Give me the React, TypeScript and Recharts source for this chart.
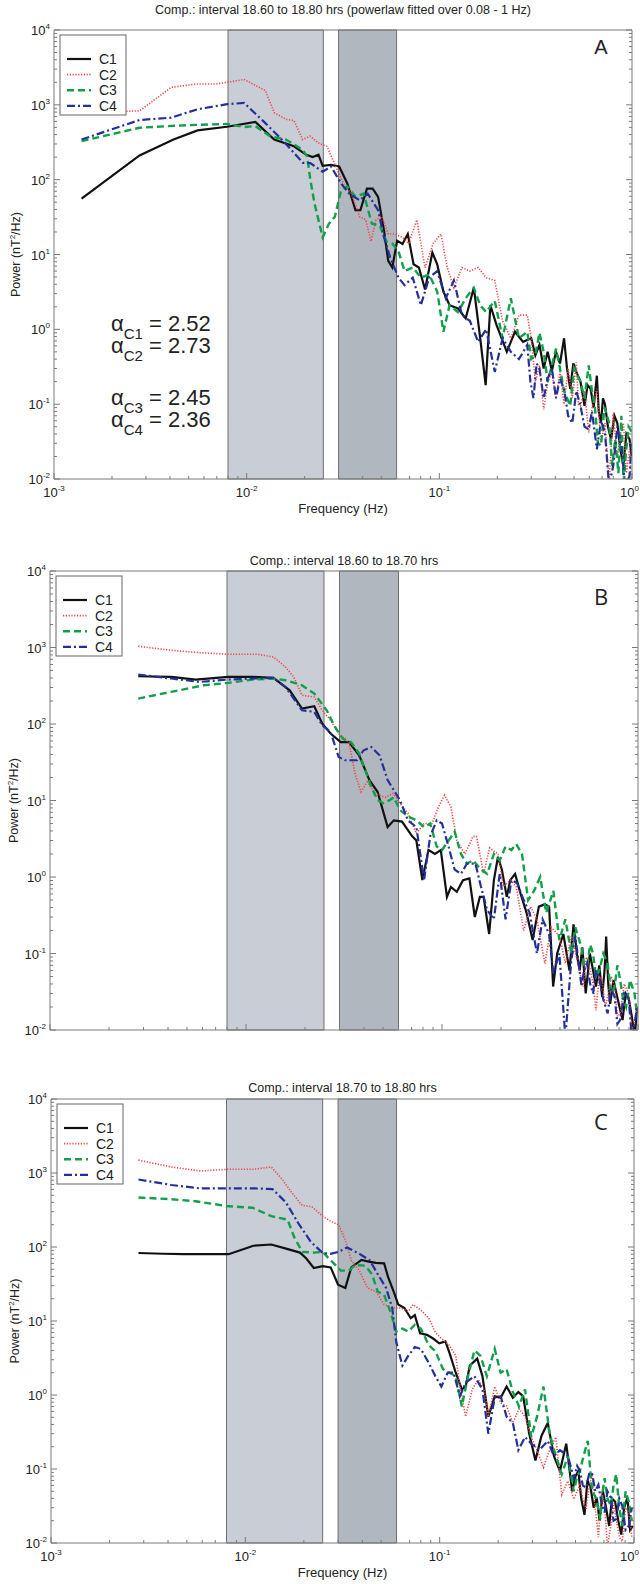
import React from 'react';
import { LineChart, Line, XAxis, YAxis, ReferenceArea } from 'recharts';

type Pt = [number, number];

// ---------- axis ticks ----------
const FREQ_TICKS = [
  0.001, 0.002, 0.003, 0.004, 0.005, 0.006, 0.007, 0.008, 0.009,
  0.01, 0.02, 0.03, 0.04, 0.05, 0.06, 0.07, 0.08, 0.09,
  0.1, 0.2, 0.3, 0.4, 0.5, 0.6, 0.7, 0.8, 0.9, 1,
];
const POWER_TICKS = [
  0.01, 0.02, 0.03, 0.04, 0.05, 0.06, 0.07, 0.08, 0.09,
  0.1, 0.2, 0.3, 0.4, 0.5, 0.6, 0.7, 0.8, 0.9,
  1, 2, 3, 4, 5, 6, 7, 8, 9,
  10, 20, 30, 40, 50, 60, 70, 80, 90,
  100, 200, 300, 400, 500, 600, 700, 800, 900,
  1000, 2000, 3000, 4000, 5000, 6000, 7000, 8000, 9000,
  10000,
];
const FREQ_DOMAIN = [0.001, 1];
const POWER_DOMAIN = [0.01, 10000];

// shaded frequency bands (Hz)
const BAND_LIGHT = [0.008, 0.025];
const BAND_DARK = [0.03, 0.06];

const SERIES_NAMES = ['C1', 'C2', 'C3', 'C4'];

// ---------- Panel A : 18.60 - 18.80 hrs ----------
const A_C1: Pt[] = [
  [0.00139, 56], [0.00278, 211], [0.00417, 344], [0.00556, 455], [0.0079, 509], [0.0111, 589],
  [0.0139, 344], [0.0176, 279], [0.0204, 215], [0.022, 200], [0.0236, 215], [0.0248, 153],
  [0.0274, 158], [0.0302, 150], [0.0333, 89], [0.0367, 39], [0.0389, 39], [0.0421, 76],
  [0.0451, 76], [0.0481, 59], [0.0516, 21], [0.0543, 8.2], [0.057, 6.7], [0.0604, 15.3],
  [0.0644, 13.8], [0.0686, 18.8], [0.0735, 7.4], [0.0783, 6.7], [0.0843, 3.4], [0.092, 10.6],
  [0.0975, 7.4], [0.105, 3.2], [0.113, 2.1], [0.125, 1.9], [0.137, 1.4], [0.151, 3.6],
  [0.163, 0.76], [0.174, 0.18], [0.184, 2.1], [0.198, 1.15], [0.224, 0.5], [0.247, 0.93],
  [0.272, 0.68], [0.3, 0.76], [0.315, 0.45], [0.331, 0.62], [0.348, 0.3], [0.365, 0.5],
  [0.384, 0.28], [0.403, 0.5], [0.423, 0.35], [0.444, 0.76], [0.46, 0.3], [0.478, 0.16],
  [0.496, 0.35], [0.514, 0.27], [0.54, 0.2], [0.567, 0.095], [0.588, 0.18], [0.61, 0.16],
  [0.632, 0.09], [0.657, 0.24], [0.672, 0.08], [0.69, 0.056], [0.707, 0.12], [0.724, 0.1],
  [0.75, 0.05], [0.779, 0.034], [0.81, 0.07], [0.839, 0.056], [0.87, 0.025], [0.902, 0.015],
  [0.935, 0.04], [0.971, 0.034], [0.995, 0.02],
];
const A_C2: Pt[] = [
  [0.00139, 790], [0.00278, 830], [0.00406, 1714], [0.00556, 1900], [0.00696, 1900], [0.00791, 2000],
  [0.0097, 2180], [0.0125, 1550], [0.0139, 787], [0.016, 640], [0.0176, 617], [0.0195, 344],
  [0.0214, 381], [0.0236, 309], [0.0261, 279], [0.0285, 166], [0.0317, 89], [0.035, 65],
  [0.0386, 32], [0.0415, 29], [0.0442, 15], [0.0469, 29], [0.0504, 32], [0.0543, 18.8],
  [0.0584, 18.8], [0.0644, 17], [0.0693, 14], [0.0764, 29], [0.0843, 6.7], [0.0929, 14],
  [0.102, 18.8], [0.11, 6.7], [0.119, 3.6], [0.131, 6.7], [0.144, 6], [0.159, 6.7],
  [0.175, 4.9], [0.194, 4.5], [0.213, 1.3], [0.235, 0.76], [0.259, 1.55], [0.286, 1.55],
  [0.3, 0.76], [0.315, 0.2], [0.331, 0.33], [0.348, 0.085], [0.366, 0.2], [0.384, 0.27],
  [0.403, 0.12], [0.423, 0.27], [0.444, 0.1], [0.466, 0.3], [0.49, 0.12], [0.514, 0.36],
  [0.527, 0.1], [0.54, 0.095], [0.567, 0.15], [0.596, 0.042], [0.625, 0.1], [0.657, 0.16],
  [0.69, 0.03], [0.724, 0.056], [0.76, 0.009], [0.799, 0.075], [0.839, 0.019], [0.87, 0.04],
  [0.902, 0.056], [0.935, 0.012], [0.971, 0.025], [0.995, 0.008],
];
const A_C3: Pt[] = [
  [0.00139, 327], [0.00278, 494], [0.00406, 523], [0.00556, 540], [0.00791, 555], [0.0097, 505],
  [0.0111, 520], [0.0132, 381], [0.016, 344], [0.0195, 251], [0.0206, 205], [0.0214, 100],
  [0.0225, 48], [0.0248, 17], [0.0267, 25.7], [0.0287, 32], [0.0309, 72], [0.0333, 81],
  [0.0367, 59], [0.0405, 65], [0.0446, 26], [0.0492, 24], [0.053, 15], [0.057, 14],
  [0.0614, 11], [0.066, 6.0], [0.0728, 6.7], [0.0802, 4.9], [0.0885, 5.4], [0.0975, 3.2],
  [0.105, 0.93], [0.113, 2.1], [0.125, 1.7], [0.137, 2.6], [0.151, 3.6], [0.163, 2.1],
  [0.175, 1.7], [0.194, 2.4], [0.213, 0.76], [0.235, 2.6], [0.259, 0.76], [0.286, 0.93],
  [0.3, 0.4], [0.315, 0.46], [0.331, 0.9], [0.348, 0.5], [0.365, 0.2], [0.384, 0.33],
  [0.403, 0.55], [0.423, 0.3], [0.444, 0.15], [0.478, 0.095], [0.5, 0.3], [0.54, 0.2],
  [0.567, 0.12], [0.596, 0.33], [0.62, 0.15], [0.641, 0.095], [0.665, 0.03], [0.69, 0.028],
  [0.72, 0.09], [0.761, 0.056], [0.79, 0.015], [0.818, 0.034], [0.85, 0.012], [0.881, 0.07],
  [0.905, 0.008], [0.925, 0.019], [0.96, 0.05], [1.0, 0.042],
];
const A_C4: Pt[] = [
  [0.00139, 344], [0.00278, 627], [0.00406, 674], [0.00556, 873], [0.00791, 1020], [0.0097, 1060],
  [0.0122, 606], [0.0155, 328], [0.0196, 168], [0.0214, 166], [0.0248, 128], [0.0274, 150],
  [0.0309, 89], [0.0341, 65], [0.0386, 53], [0.0425, 65], [0.0481, 39], [0.0516, 17],
  [0.0556, 9.1], [0.0614, 4.9], [0.066, 3.9], [0.0728, 4.9], [0.0802, 2.1], [0.0885, 4.9],
  [0.0975, 6.0], [0.108, 2.6], [0.119, 4.5], [0.131, 1.55], [0.144, 1.3], [0.159, 0.68],
  [0.175, 1.0], [0.194, 0.27], [0.213, 0.76], [0.235, 0.5], [0.259, 0.4], [0.286, 0.62],
  [0.297, 0.2], [0.308, 0.12], [0.32, 0.35], [0.331, 0.3], [0.348, 0.12], [0.365, 0.22],
  [0.384, 0.3], [0.403, 0.12], [0.423, 0.22], [0.444, 0.16], [0.466, 0.07], [0.49, 0.056],
  [0.514, 0.15], [0.54, 0.095], [0.567, 0.05], [0.596, 0.046], [0.62, 0.08], [0.657, 0.025],
  [0.69, 0.06], [0.724, 0.042], [0.76, 0.008], [0.799, 0.015], [0.84, 0.05], [0.881, 0.028],
  [0.92, 0.008], [0.971, 0.011], [0.995, 0.03],
];

// ---------- Panel B : 18.60 - 18.70 hrs ----------
const B_C1: Pt[] = [
  [0.00282, 421], [0.00415, 413], [0.00554, 381], [0.0081, 413], [0.0108, 413], [0.0138, 400],
  [0.0167, 276], [0.0193, 159], [0.0223, 171], [0.0245, 101], [0.027, 75], [0.0304, 58],
  [0.0335, 58], [0.0378, 39], [0.0426, 18.5], [0.0469, 13], [0.0528, 4.5], [0.0568, 5.5],
  [0.0625, 5.3], [0.0705, 3.4], [0.074, 3.0], [0.0794, 0.91], [0.0853, 2.25], [0.092, 2.0],
  [0.0986, 2.25], [0.106, 0.55], [0.111, 0.74], [0.119, 0.64], [0.128, 0.91], [0.138, 0.96],
  [0.147, 0.3], [0.156, 0.55], [0.163, 0.55], [0.174, 0.18], [0.184, 0.91], [0.193, 1.84],
  [0.202, 1.25], [0.214, 0.55], [0.223, 0.91], [0.236, 1.1], [0.251, 0.62], [0.27, 0.34],
  [0.29, 0.15], [0.312, 0.41], [0.335, 0.44], [0.352, 0.41], [0.369, 0.037], [0.387, 0.1],
  [0.416, 0.18], [0.447, 0.06], [0.469, 0.24], [0.49, 0.09], [0.504, 0.06], [0.52, 0.12],
  [0.541, 0.03], [0.568, 0.1], [0.59, 0.06], [0.61, 0.037], [0.635, 0.07], [0.656, 0.027],
  [0.675, 0.06], [0.688, 0.166], [0.705, 0.04], [0.721, 0.022], [0.75, 0.045], [0.776, 0.03],
  [0.805, 0.02], [0.834, 0.0135], [0.865, 0.03], [0.896, 0.026], [0.93, 0.015], [0.962, 0.008],
  [0.99, 0.02],
];
const B_C2: Pt[] = [
  [0.00282, 1038], [0.00415, 920], [0.0061, 849], [0.0081, 816], [0.0114, 816], [0.0138, 753],
  [0.0159, 557], [0.0175, 413], [0.0193, 238], [0.0223, 225], [0.0245, 151], [0.027, 112],
  [0.0297, 75], [0.0335, 58], [0.036, 22.5], [0.0386, 13], [0.0415, 17.5], [0.0456, 12.4],
  [0.0513, 11], [0.0563, 12.4], [0.061, 9.2], [0.067, 6.8], [0.074, 3.7], [0.081, 5.0],
  [0.089, 5.0], [0.096, 8.3], [0.103, 11.7], [0.111, 8.3], [0.119, 3.0], [0.131, 2.0],
  [0.144, 3.4], [0.15, 3.4], [0.163, 1.1], [0.175, 2.4], [0.193, 2.0], [0.206, 0.75],
  [0.223, 0.91], [0.239, 0.75], [0.261, 0.2], [0.283, 0.41], [0.305, 0.28], [0.335, 0.074],
  [0.36, 0.22], [0.397, 0.17], [0.426, 0.074], [0.457, 0.17], [0.49, 0.08], [0.51, 0.05],
  [0.527, 0.037], [0.545, 0.09], [0.566, 0.068], [0.59, 0.04], [0.61, 0.018], [0.635, 0.05],
  [0.656, 0.046], [0.68, 0.02], [0.7, 0.027], [0.73, 0.05], [0.76, 0.037], [0.785, 0.015],
  [0.81, 0.0165], [0.85, 0.04], [0.896, 0.03], [0.93, 0.01], [0.96, 0.012], [0.99, 0.02],
];
const B_C3: Pt[] = [
  [0.00282, 215], [0.00415, 263], [0.0061, 321], [0.0081, 345], [0.0108, 381], [0.0138, 393],
  [0.0159, 373], [0.0193, 321], [0.0223, 250], [0.0258, 151], [0.0284, 92], [0.0312, 64],
  [0.0343, 58], [0.0378, 41], [0.0406, 25], [0.0436, 15], [0.0469, 10.1], [0.0503, 9.2],
  [0.054, 10.1], [0.0568, 11], [0.061, 7.5], [0.067, 6.2], [0.074, 5.5], [0.081, 4.5],
  [0.087, 5.0], [0.094, 2.5], [0.1, 2.25], [0.108, 3.0], [0.116, 3.9], [0.125, 2.0],
  [0.134, 1.5], [0.144, 1.65], [0.158, 1.25], [0.17, 1.1], [0.184, 2.0], [0.197, 1.65],
  [0.211, 2.5], [0.226, 2.25], [0.239, 2.7], [0.256, 2.0], [0.275, 0.5], [0.295, 0.66],
  [0.317, 1.0], [0.34, 0.34], [0.37, 0.66], [0.397, 0.15], [0.426, 0.28], [0.457, 0.1],
  [0.479, 0.22], [0.515, 0.12], [0.53, 0.07], [0.55, 0.068], [0.57, 0.13], [0.59, 0.1],
  [0.61, 0.05], [0.635, 0.06], [0.665, 0.1], [0.7, 0.074], [0.73, 0.03], [0.76, 0.037],
  [0.785, 0.07], [0.81, 0.046], [0.84, 0.025], [0.87, 0.02], [0.91, 0.045], [0.96, 0.03],
  [0.99, 0.015],
];
const B_C4: Pt[] = [
  [0.00282, 443], [0.00415, 393], [0.0058, 355], [0.0081, 381], [0.0108, 393], [0.0138, 400],
  [0.0159, 305], [0.0193, 151], [0.0223, 144], [0.0245, 96], [0.027, 79], [0.0297, 37],
  [0.032, 33.6], [0.0343, 33.6], [0.0369, 33.6], [0.0397, 45], [0.0436, 50], [0.048, 39],
  [0.0528, 18.5], [0.0568, 13.6], [0.061, 10.1], [0.067, 5.5], [0.074, 4.5], [0.081, 0.91],
  [0.087, 3.4], [0.094, 5.5], [0.1, 5.0], [0.108, 2.5], [0.116, 1.25], [0.125, 1.1],
  [0.134, 1.5], [0.148, 1.5], [0.158, 0.75], [0.17, 0.37], [0.184, 0.28], [0.197, 1.1],
  [0.211, 0.28], [0.226, 0.91], [0.242, 0.83], [0.261, 0.5], [0.28, 0.34], [0.305, 0.1],
  [0.326, 0.28], [0.352, 0.18], [0.37, 0.055], [0.397, 0.1], [0.426, 0.008], [0.457, 0.083],
  [0.479, 0.17], [0.515, 0.037], [0.53, 0.06], [0.55, 0.074], [0.57, 0.04], [0.59, 0.03],
  [0.61, 0.06], [0.635, 0.046], [0.665, 0.025], [0.7, 0.0165], [0.73, 0.035], [0.76, 0.027],
  [0.785, 0.012], [0.81, 0.0135], [0.85, 0.03], [0.896, 0.026], [0.93, 0.008], [0.96, 0.012],
  [0.99, 0.02],
];

// ---------- Panel C : 18.70 - 18.80 hrs ----------
const C_C1: Pt[] = [
  [0.00282, 83], [0.00377, 81], [0.00481, 80], [0.00675, 80], [0.0082, 80], [0.0095, 91],
  [0.011, 104], [0.0136, 108], [0.0162, 95], [0.0191, 84], [0.0206, 70], [0.0225, 52],
  [0.025, 55], [0.0275, 53], [0.03, 31], [0.0327, 28], [0.0351, 53], [0.0396, 67],
  [0.0437, 63], [0.047, 61], [0.0518, 60], [0.0543, 39], [0.0578, 25.5], [0.0612, 16.7],
  [0.0659, 15], [0.071, 10.9], [0.0745, 12], [0.0793, 6.8], [0.086, 6.5], [0.0925, 5.8],
  [0.0995, 5.0], [0.107, 5.3], [0.112, 3.8], [0.121, 2.0], [0.13, 1.19], [0.136, 1.3],
  [0.143, 2.5], [0.156, 3.1], [0.166, 1.8], [0.178, 0.51], [0.192, 0.96], [0.206, 0.92],
  [0.221, 1.3], [0.238, 0.92], [0.254, 1.1], [0.269, 0.96], [0.289, 0.3], [0.311, 0.13],
  [0.334, 0.28], [0.36, 0.42], [0.387, 0.15], [0.416, 0.094], [0.448, 0.22], [0.481, 0.05],
  [0.5, 0.08], [0.517, 0.094], [0.535, 0.04], [0.556, 0.024], [0.576, 0.07], [0.598, 0.056],
  [0.62, 0.03], [0.643, 0.041], [0.665, 0.02], [0.692, 0.05], [0.718, 0.03], [0.745, 0.017],
  [0.77, 0.04], [0.8, 0.036], [0.83, 0.02], [0.86, 0.013], [0.89, 0.03], [0.925, 0.041],
  [0.955, 0.015], [0.986, 0.017],
];
const C_C2: Pt[] = [
  [0.00282, 1492], [0.00416, 1208], [0.00584, 1064], [0.0082, 1122], [0.011, 1122], [0.0136, 1208],
  [0.0154, 834], [0.0173, 546], [0.0196, 365], [0.022, 351], [0.025, 261], [0.0275, 222],
  [0.0302, 200], [0.0327, 124], [0.0351, 66], [0.0386, 48], [0.0425, 28], [0.047, 25],
  [0.0518, 16.7], [0.057, 15], [0.0627, 15], [0.069, 13.5], [0.073, 16.7], [0.08, 14],
  [0.088, 10.9], [0.095, 7.0], [0.102, 5.8], [0.112, 4.7], [0.121, 3.4], [0.127, 1.32],
  [0.136, 0.51], [0.147, 1.19], [0.158, 1.6], [0.17, 1.19], [0.178, 0.51], [0.192, 1.3],
  [0.206, 0.78], [0.221, 0.71], [0.238, 0.42], [0.256, 0.65], [0.275, 0.51], [0.296, 0.27],
  [0.317, 0.18], [0.342, 0.105], [0.368, 0.18], [0.396, 0.27], [0.425, 0.045], [0.457, 0.069],
  [0.49, 0.039], [0.51, 0.05], [0.527, 0.061], [0.545, 0.04], [0.567, 0.029], [0.59, 0.06],
  [0.61, 0.085], [0.632, 0.03], [0.656, 0.012], [0.68, 0.05], [0.706, 0.032], [0.73, 0.009],
  [0.76, 0.017], [0.785, 0.035], [0.81, 0.021], [0.84, 0.012], [0.87, 0.0105], [0.905, 0.03],
  [0.94, 0.026], [0.975, 0.012],
];
const C_C3: Pt[] = [
  [0.00282, 467], [0.00416, 442], [0.00555, 415], [0.00798, 358], [0.0109, 339], [0.0136, 261],
  [0.0165, 234], [0.0178, 138], [0.0196, 86], [0.0226, 84], [0.025, 86], [0.0275, 66],
  [0.031, 48], [0.0341, 48], [0.0367, 57], [0.0414, 56], [0.0448, 43], [0.048, 25],
  [0.0518, 22.6], [0.0557, 13.5], [0.0598, 7.2], [0.0643, 7.9], [0.069, 7.2], [0.0745, 8.9],
  [0.08, 7.9], [0.088, 4.7], [0.095, 3.9], [0.104, 2.24], [0.112, 2.0], [0.121, 1.8],
  [0.13, 0.7], [0.14, 1.8], [0.151, 4.0], [0.162, 3.4], [0.175, 1.8], [0.192, 4.2],
  [0.206, 2.0], [0.221, 2.24], [0.238, 1.1], [0.256, 0.7], [0.275, 1.19], [0.296, 0.27],
  [0.317, 0.51], [0.342, 1.3], [0.368, 0.3], [0.396, 0.15], [0.425, 0.085], [0.457, 0.15],
  [0.49, 0.05], [0.51, 0.08], [0.527, 0.094], [0.55, 0.15], [0.578, 0.24], [0.595, 0.1],
  [0.61, 0.05], [0.64, 0.04], [0.67, 0.021], [0.69, 0.05], [0.706, 0.075], [0.73, 0.04],
  [0.76, 0.032], [0.785, 0.06], [0.81, 0.085], [0.84, 0.03], [0.87, 0.017], [0.905, 0.05],
  [0.94, 0.036], [0.975, 0.02],
];
const C_C4: Pt[] = [
  [0.00282, 817], [0.00416, 689], [0.00584, 620], [0.0082, 620], [0.011, 620], [0.0138, 607],
  [0.0162, 398], [0.0187, 211], [0.0217, 118], [0.025, 83], [0.0275, 81], [0.0302, 86],
  [0.0334, 98.6], [0.0386, 81], [0.0437, 66], [0.048, 43], [0.053, 28], [0.057, 15],
  [0.0598, 5.2], [0.0643, 2.5], [0.069, 3.4], [0.0745, 4.45], [0.08, 4.2], [0.088, 2.7],
  [0.095, 1.8], [0.102, 1.3], [0.11, 2.0], [0.118, 2.0], [0.127, 0.96], [0.136, 1.46],
  [0.151, 1.8], [0.166, 1.19], [0.178, 0.3], [0.192, 0.92], [0.206, 0.96], [0.221, 0.51],
  [0.238, 0.42], [0.254, 0.18], [0.275, 0.27], [0.296, 0.22], [0.326, 0.18], [0.36, 0.24],
  [0.387, 0.15], [0.416, 0.18], [0.457, 0.15], [0.49, 0.075], [0.51, 0.11], [0.527, 0.094],
  [0.545, 0.06], [0.567, 0.056], [0.59, 0.09], [0.61, 0.085], [0.632, 0.05], [0.656, 0.061],
  [0.68, 0.035], [0.706, 0.026], [0.73, 0.05], [0.76, 0.041], [0.785, 0.02], [0.81, 0.021],
  [0.84, 0.04], [0.87, 0.032], [0.905, 0.015], [0.94, 0.017], [0.975, 0.03],
];

// power-law exponents (panel A annotation)
const ALPHA_LABELS = ['C1', 'C2', 'C3', 'C4'];
const ALPHA_VALUES = ['2.52', '2.73', '2.45', '2.36'];

const TITLES = [
  'Comp.: interval 18.60 to 18.80 hrs (powerlaw fitted over 0.08 - 1 Hz)',
  'Comp.: interval 18.60 to 18.70 hrs',
  'Comp.: interval 18.70 to 18.80 hrs',
];
const LETTERS = ['A', 'B', 'C'];

// ---------- styles ----------
const FONT = '"Liberation Sans", Arial, Helvetica, sans-serif';
const FRAME = '#7a7a7a';
const LIGHT_FILL = '#c9cdd5';
const DARK_FILL = '#b1b7bf';
const LINE_STYLES = [
  { stroke: '#111111', strokeWidth: 2.2, dash: undefined as string | undefined },
  { stroke: '#f04545', strokeWidth: 1.6, dash: '1.2 1.6' },
  { stroke: '#11a04a', strokeWidth: 2.4, dash: '7 4' },
  { stroke: '#24309a', strokeWidth: 2.2, dash: '8 3 2 3' },
];
const ALPHA_BASELINES = [331, 353, 405, 427];

const isMajor = (v: number) => Math.abs(Math.log10(v) - Math.round(Math.log10(v))) < 1e-6;
const expOf = (v: number) => Math.round(Math.log10(v));
const toRows = (pts: Pt[]) => pts.map(([f, p]) => ({ f, p }));

const TickText = ({ x, y, v, anchor }: { x: number; y: number; v: number; anchor: 'middle' | 'end' }) => (
  <text x={x} y={y} textAnchor={anchor} fontFamily={FONT} fontSize={13} fill="#222">
    10<tspan dy={-6} fontSize={8}>{String(expOf(v))}</tspan>
  </text>
);

const makeBottomTick = (showLabel: boolean) => (props: any) => {
  const { x, y, payload } = props;
  const v = payload.value;
  const major = isMajor(v);
  const last = Math.abs(v - 1) < 1e-9;
  return (
    <g>
      <line x1={x} x2={x} y1={y} y2={y - (major ? 6 : 3)} stroke={FRAME} strokeWidth={1} />
      {major && showLabel ? (
        last ? <TickText x={639} y={y + 18} v={v} anchor="end" /> : <TickText x={x} y={y + 18} v={v} anchor="middle" />
      ) : null}
    </g>
  );
};
const TopTick = (props: any) => {
  const { x, y, payload } = props;
  const major = isMajor(payload.value);
  return <line x1={x} x2={x} y1={y} y2={y + (major ? 6 : 3)} stroke={FRAME} strokeWidth={1} />;
};
const LeftTick = (props: any) => {
  const { x, y, payload } = props;
  const v = payload.value;
  const major = isMajor(v);
  return (
    <g>
      <line x1={x} x2={x + (major ? 6 : 3)} y1={y} y2={y} stroke={FRAME} strokeWidth={1} />
      {major ? <TickText x={x - 4} y={y + 5} v={v} anchor="end" /> : null}
    </g>
  );
};
const RightTick = (props: any) => {
  const { x, y, payload } = props;
  const major = isMajor(payload.value);
  return <line x1={x} x2={x - (major ? 6 : 3)} y1={y} y2={y} stroke={FRAME} strokeWidth={1} />;
};

interface PanelSpec {
  index: number;
  top: number;
  height: number;
  plot: { top: number; bottom: number; left: number; right: number };
  series: Pt[][];
  xLabels: boolean;
  letterFont: string;
  letterSize: number;
  letterDy: number;
  titleDy: number;
  ylabelX: number;
}

const W = 640;

function Panel({ spec }: { spec: PanelSpec }) {
  const { plot, height } = spec;
  const cx = (plot.left + plot.right) / 2;
  const cy = (plot.top + plot.bottom) / 2;
  const lgX = plot.left + 6;
  const lgY = plot.top + 5;
  return (
    <div style={{ position: 'absolute', left: 0, top: spec.top, width: W, height }}>
      <LineChart width={W} height={height} margin={{ top: 0, right: 0, bottom: 0, left: 0 }}>
        <XAxis
          xAxisId="b" dataKey="f" type="number" scale="log" domain={FREQ_DOMAIN} allowDataOverflow
          ticks={FREQ_TICKS} interval={0} tickSize={0} tickMargin={0} tickLine={false}
          height={height - plot.bottom} axisLine={{ stroke: FRAME }} tick={makeBottomTick(spec.xLabels)}
        />
        <XAxis
          xAxisId="t" orientation="top" type="number" scale="log" domain={FREQ_DOMAIN} allowDataOverflow
          ticks={FREQ_TICKS} interval={0} tickSize={0} tickMargin={0} tickLine={false}
          height={plot.top} axisLine={{ stroke: FRAME }} tick={TopTick}
        />
        <YAxis
          yAxisId="l" type="number" scale="log" domain={POWER_DOMAIN} allowDataOverflow
          ticks={POWER_TICKS} interval={0} tickSize={0} tickMargin={0} tickLine={false}
          width={plot.left} axisLine={{ stroke: FRAME }} tick={LeftTick}
        />
        <YAxis
          yAxisId="r" orientation="right" type="number" scale="log" domain={POWER_DOMAIN} allowDataOverflow
          ticks={POWER_TICKS} interval={0} tickSize={0} tickMargin={0} tickLine={false}
          width={W - plot.right} axisLine={{ stroke: FRAME }} tick={RightTick}
        />
        <ReferenceArea
          xAxisId="b" yAxisId="l" x1={BAND_LIGHT[0]} x2={BAND_LIGHT[1]}
          fill={LIGHT_FILL} fillOpacity={1} stroke="#6e6e6e" strokeWidth={1}
        />
        <ReferenceArea
          xAxisId="b" yAxisId="l" x1={BAND_DARK[0]} x2={BAND_DARK[1]}
          fill={DARK_FILL} fillOpacity={1} stroke="#6e6e6e" strokeWidth={1}
        />
        {spec.series.map((s, i) => (
          <Line
            key={SERIES_NAMES[i]}
            name={SERIES_NAMES[i]}
            xAxisId="b" yAxisId="l"
            data={toRows(s)} dataKey="p" type="linear"
            stroke={LINE_STYLES[i].stroke} strokeWidth={LINE_STYLES[i].strokeWidth}
            strokeDasharray={LINE_STYLES[i].dash}
            dot={false} activeDot={false} isAnimationActive={false}
          />
        ))}
      </LineChart>
      <svg
        width={W} height={height}
        style={{ position: 'absolute', left: 0, top: 0, pointerEvents: 'none' }}
      >
        <text x={cx} y={plot.top - spec.titleDy} textAnchor="middle" fontFamily={FONT} fontSize={12.5} fill="#222">
          {TITLES[spec.index]}
        </text>
        <text
          transform={`translate(${spec.ylabelX}, ${cy}) rotate(-90)`} textAnchor="middle"
          fontFamily={FONT} fontSize={12.5} fill="#222"
        >
          Power (nT<tspan dy={-5} fontSize={8}>2</tspan><tspan dy={5}>/Hz)</tspan>
        </text>
        {spec.xLabels ? (
          <text x={cx} y={plot.bottom + 34} textAnchor="middle" fontFamily={FONT} fontSize={13} fill="#222">
            Frequency (Hz)
          </text>
        ) : null}
        <text
          x={601} y={plot.top + spec.letterDy} textAnchor="middle"
          fontFamily={spec.letterFont} fontSize={spec.letterSize} fill="#222"
        >
          {LETTERS[spec.index]}
        </text>
        <rect x={lgX} y={lgY} width={66} height={80} fill="#ffffff" stroke="#666" strokeWidth={1} />
        {SERIES_NAMES.map((n, i) => {
          const ly = lgY + 24 + i * 15.6;
          return (
            <g key={n}>
              <line
                x1={lgX + 7} x2={lgX + 31} y1={ly} y2={ly}
                stroke={LINE_STYLES[i].stroke} strokeWidth={LINE_STYLES[i].strokeWidth}
                strokeDasharray={LINE_STYLES[i].dash}
              />
              <text x={lgX + 39} y={ly + 5} fontFamily={FONT} fontSize={14} fill="#222">{n}</text>
            </g>
          );
        })}
        {spec.index === 0
          ? ALPHA_LABELS.map((lab, i) => (
              <text key={lab} x={111} y={ALPHA_BASELINES[i]} fontFamily={FONT} fontSize={22} fill="#222">
                α<tspan dy={8} fontSize={15}>{lab}</tspan>
                <tspan x={149} dy={-8}>= {ALPHA_VALUES[i]}</tspan>
              </text>
            ))
          : null}
      </svg>
    </div>
  );
}

const PANELS: PanelSpec[] = [
  {
    index: 0, top: 0, height: 530,
    plot: { top: 30, bottom: 479, left: 54, right: 632 },
    series: [A_C1, A_C2, A_C3, A_C4], xLabels: true,
    letterFont: FONT, letterSize: 20, letterDy: 24, titleDy: 16, ylabelX: 20,
  },
  {
    index: 1, top: 540, height: 500,
    plot: { top: 31, bottom: 490, left: 50, right: 638 },
    series: [B_C1, B_C2, B_C3, B_C4], xLabels: false,
    letterFont: '"Open Sans", sans-serif', letterSize: 22, letterDy: 34, titleDy: 6, ylabelX: 18,
  },
  {
    index: 2, top: 1050, height: 534,
    plot: { top: 49, bottom: 493, left: 51, right: 634 },
    series: [C_C1, C_C2, C_C3, C_C4], xLabels: true,
    letterFont: '"Open Sans", sans-serif', letterSize: 22, letterDy: 31, titleDy: 7, ylabelX: 19,
  },
];

export default function App() {
  return (
    <div style={{ position: 'absolute', left: 0, top: 0, width: W, height: 1584, background: '#ffffff' }}>
      {PANELS.map((p) => (
        <Panel key={p.index} spec={p} />
      ))}
    </div>
  );
}
